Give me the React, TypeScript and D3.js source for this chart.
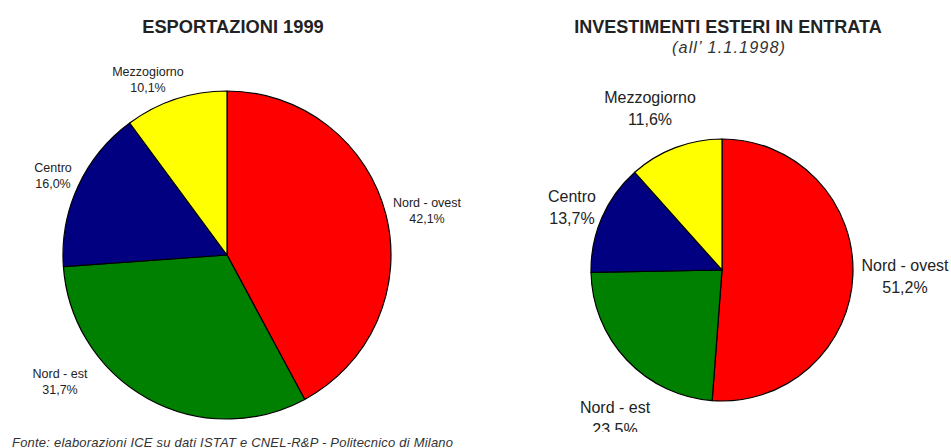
import React from 'react';
import * as d3 from 'd3';

const regions = ['Nord - ovest', 'Nord - est', 'Centro', 'Mezzogiorno'];
const colors = ['#ff0000', '#008000', '#000080', '#ffff00'];
const exportValues = [42.1, 31.7, 16.0, 10.1];
const investValues = [51.2, 23.5, 13.7, 11.6];

// label anchor points (centre x, first baseline y) for each chart
const exportLabels = [[427, 207], [60, 378], [53, 172], [148, 76]];
const investLabels = [[905, 271], [615, 413], [572, 202], [650, 103]];

const fmt = (v: number) => v.toFixed(1).replace('.', ',') + '%';

const Pie = ({ values, cx, cy, r, labels, fontSize, lineGap }) => {
    const pie = d3.pie<number>().sort(null).value(d => d);
    const arc = d3.arc<d3.PieArcDatum<number>>().innerRadius(0).outerRadius(r);
    const arcs = pie(values);
    return (
        <g>
            <g transform={`translate(${cx},${cy})`}>
                {arcs.map((a, i) => (
                    <path key={i} d={arc(a)} fill={colors[i]} stroke="#000" strokeWidth={1.2} strokeLinejoin="round" />
                ))}
            </g>
            {labels.map(([x, y], i) => (
                <text key={i} x={x} y={y} textAnchor="middle" fontSize={fontSize} fill="#222">
                    <tspan x={x}>{regions[i]}</tspan>
                    <tspan x={x} dy={lineGap}>{fmt(values[i])}</tspan>
                </text>
            ))}
        </g>
    );
};

export default function App() {
    return (
        <svg width={951} height={448} style={{ position: 'absolute', left: 0, top: 0, background: '#fff' }}
            fontFamily="'Liberation Sans', Arial, sans-serif">
            <rect width={951} height={448} fill="#fff" />
            <text x={233} y={33} textAnchor="middle" fontSize={18.3} fontWeight="bold" fill="#222">ESPORTAZIONI 1999</text>
            <text x={728} y={33} textAnchor="middle" fontSize={18} fontWeight="bold" fill="#222">INVESTIMENTI ESTERI IN ENTRATA</text>
            <text x={672} y={53} fontSize={16.3} fontStyle="italic" fill="#333" textLength={113} lengthAdjust="spacing">(all’ 1.1.1998)</text>

            <Pie values={exportValues} cx={227} cy={255} r={164} labels={exportLabels} fontSize={12.5} lineGap={15.5} />
            <Pie values={investValues} cx={722} cy={270} r={131} labels={investLabels} fontSize={16} lineGap={22} />

            <rect x={475} y={432} width={476} height={16} fill="#fff" />
            <text x={12} y={447} fontSize={13} fontStyle="italic" fill="#333" textLength={441} lengthAdjust="spacing">
                Fonte: elaborazioni ICE su dati ISTAT e CNEL-R&amp;P - Politecnico di Milano
            </text>
        </svg>
    );
}
